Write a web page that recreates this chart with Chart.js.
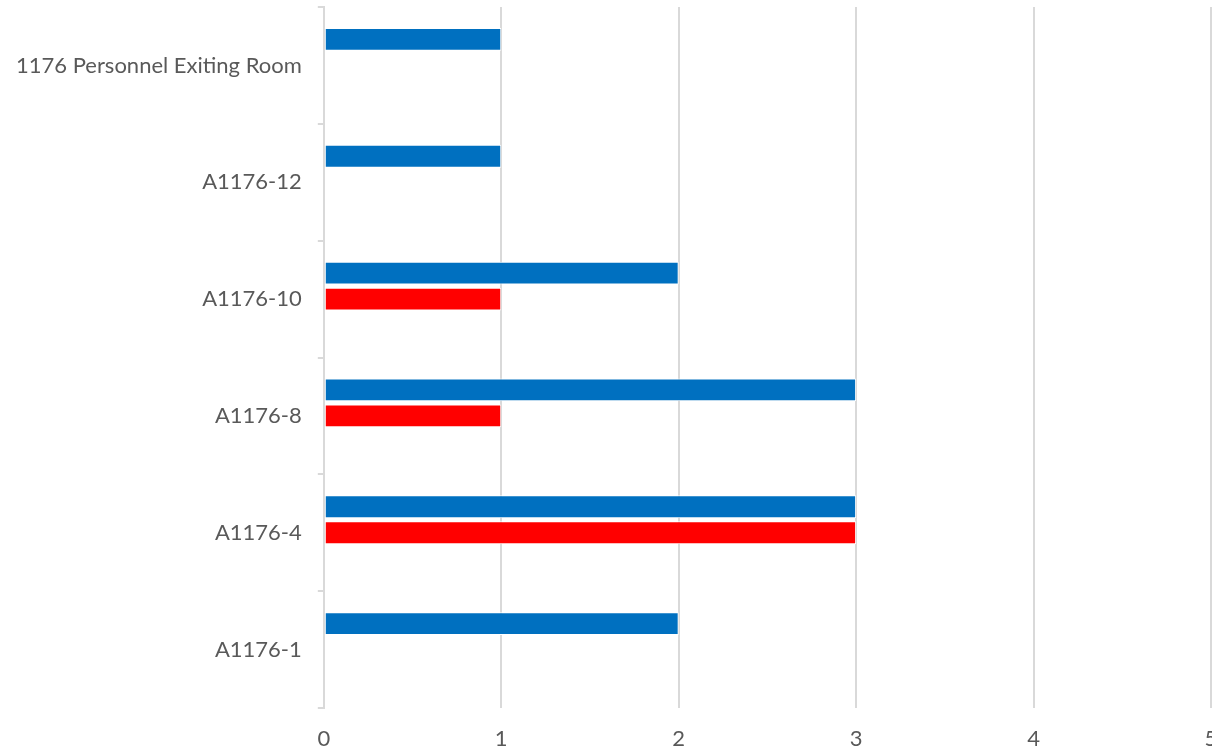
<!DOCTYPE html>
<html>
<head>
<meta charset="utf-8">
<script src="https://cdn.jsdelivr.net/npm/chart.js@4/dist/chart.umd.min.js"></script>
<style>
  html, body { margin: 0; padding: 0; background: #fff; overflow: hidden; }
  #wrap { width: 1212px; height: 752px; }
</style>
</head>
<body>
<div id="wrap"><canvas id="barChart"></canvas></div>
<script>
var categories = ["1176 Personnel Exiting Room", "A1176-12", "A1176-10", "A1176-8", "A1176-4", "A1176-1"];
var blueValues = [1, 1, 2, 3, 3, 2];
var redValues = [null, null, 1, 1, 3, null];
var thirdValues = [null, null, null, null, null, null];
var xTicks = [0, 1, 2, 3, 4, 5];

Chart.defaults.font.family = "Lato";
Chart.defaults.font.size = 22;
Chart.defaults.color = "#595959";

var barCanvas = document.getElementById("barChart");

var barData = {
  labels: categories,
  datasets: [{
    label: "Series 1",
    data: blueValues,
    backgroundColor: "#0070C0",
    borderColor: "#ffffff",
    borderWidth: 1,
    borderSkipped: false
  }, {
    label: "Series 2",
    data: redValues,
    backgroundColor: "#FF0000",
    borderColor: "#ffffff",
    borderWidth: 1,
    borderSkipped: false
  }, {
    label: "Series 3",
    data: thirdValues,
    backgroundColor: "#A5A5A5"
  }]
};

var barOptions = {
  indexAxis: 'y',
  responsive: true,
  maintainAspectRatio: false,
  animation: false,
  datasets: {
    bar: { categoryPercentage: 0.667, barPercentage: 0.88 }
  },
  layout: { padding: { left: 0, top: 7, right: 1, bottom: 0 } },
  plugins: {
    legend: { display: false },
    tooltip: { enabled: false }
  },
  scales: {
    x: {
      min: 0,
      max: 5,
      afterBuildTicks: function (axis) {
        axis.ticks = xTicks.map(function (v) { return { value: v }; });
      },
      // let the last label run off the edge like the original
      afterFit: function (axis) {
        axis.paddingLeft = 0;
        axis.paddingRight = 0;
        axis.height = 44;
      },
      grid: { color: "#D9D9D9", lineWidth: 2, drawTicks: false },
      border: { display: false },
      ticks: { padding: 18 }
    },
    y: {
      afterFit: function (axis) {
        axis.paddingTop = 0;
        axis.paddingBottom = 0;
      },
      grid: { drawOnChartArea: false, drawTicks: true, tickLength: 6, color: "#D9D9D9", lineWidth: 2 },
      border: { display: true, color: "#D9D9D9", width: 2 },
      ticks: { padding: 16 }
    }
  }
};

var barChart = new Chart(barCanvas, {
  type: 'bar',
  data: barData,
  options: barOptions
});
</script>
</body>
</html>
